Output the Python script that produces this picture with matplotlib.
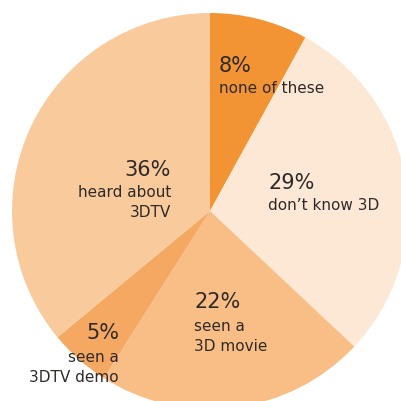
"""
Pie chart: what people know about 3DTV (cropped view, labels inside slices).
"""

import matplotlib
matplotlib.use("Agg")
import matplotlib.pyplot as plt

# slices, clockwise from 12 o'clock
PCT    = [8, 29, 22, 5, 36]
LABELS = ["none of these", "don\u2019t know 3D", "seen a\n3D movie",
          "seen a\n3DTV demo", "heard about\n3DTV"]
COLORS = ["#F39434", "#FDE8D6", "#F8BE86", "#F5A862", "#F9CB9C"]

W, H = 401, 401
TXT = "#2e2a28"

fig = plt.figure(figsize=(W / 100, H / 100), dpi=100)
ax = fig.add_axes([0, 0, 1, 1])

ax.pie(PCT, colors=COLORS, startangle=90, counterclock=False,
       center=(210, H - 211), radius=198,
       wedgeprops=dict(linewidth=0))
ax.set_xlim(0, W)
ax.set_ylim(0, H)
ax.set_aspect("equal")
ax.axis("off")

# label anchors in pixels from top-left: (x, pct baseline, first label baseline, align)
anchors = [
    (219, 72, 93, "left"),
    (268, 189, 210, "left"),
    (194, 308, 331, "left"),
    (119, 339, 362, "right"),
    (171, 176, 197, "right"),
]

for p, lab, (x, yb, yl, ha) in zip(PCT, LABELS, anchors):
    ax.text(x, H - yb, f"{p}%", ha=ha, va="baseline",
            fontsize=15, color=TXT)
    for i, line in enumerate(lab.split("\n")):
        ax.text(x, H - (yl + 20 * i), line, ha=ha, va="baseline",
                fontsize=11, color=TXT)

fig.savefig("out.png", dpi=100)
